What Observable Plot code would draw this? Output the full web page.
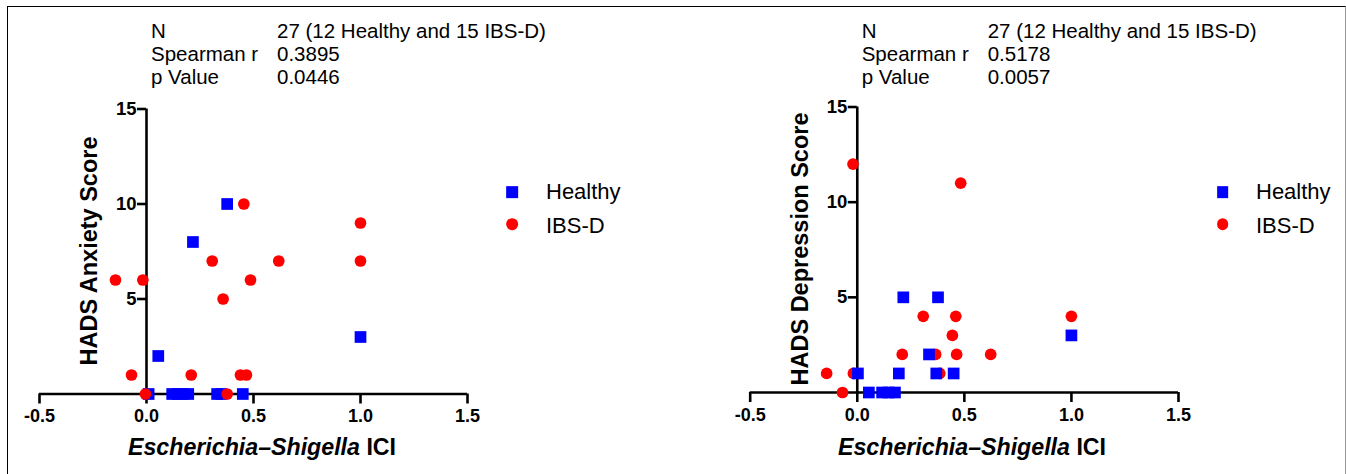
<!DOCTYPE html>
<html>
<head>
<meta charset="utf-8">
<script src="https://cdn.jsdelivr.net/npm/d3@7"></script>
<script src="https://cdn.jsdelivr.net/npm/@observablehq/plot@0.6"></script>
<style>
  html, body { margin: 0; padding: 0; background: #fff; }
  #wrap { position: relative; width: 1346px; height: 474px; overflow: hidden; font-family: "Liberation Sans", Arial, sans-serif; color: #000; }
  #frame { position: absolute; left: 7px; top: 6px; width: 1337px; height: 480px; border-top: 1.5px solid #000; border-left: 1.5px solid #000; border-right: 1px solid #999; }
  .panel { position: absolute; top: 0; }
  .t { position: absolute; white-space: nowrap; line-height: 1; }
  .stat { font-size: 20.5px; }
  .leg { font-size: 22px; }
  .ylab { font-weight: bold; transform: translate(-50%, -50%) rotate(-90deg); }
  .xlab { font-weight: bold; font-size: 23.2px; transform: translateX(-50%); }
  .sq { position: absolute; width: 11.7px; height: 11.7px; background: #0000ff; transform: translate(-50%, -50%); }
  .ci { position: absolute; width: 11.7px; height: 11.7px; border-radius: 50%; background: #ff0000; transform: translate(-50%, -50%); }
</style>
</head>
<body>
<div id="wrap">
  <div id="frame"></div>
</div>
<script>
// ---- data ----
const xTicks = [-0.5, 0, 0.5, 1.0, 1.5];
const yTicks = [5, 10, 15];
const seriesNames = ["Healthy", "IBS-D"];

// Left panel: HADS Anxiety
const anxHealthyX = [0.01, 0.055, 0.12, 0.145, 0.17, 0.195, 0.217, 0.33, 0.35, 0.377, 0.45, 1.0];
const anxHealthyY = [0, 2, 0, 0, 0, 0, 8, 0, 0, 10, 0, 3];
const anxIbsX = [-0.145, -0.07, -0.017, -0.005, 0.209, 0.307, 0.358, 0.377, 0.439, 0.455, 0.467, 0.486, 0.618, 1.0, 1.0];
const anxIbsY = [6, 1, 6, 0, 1, 7, 5, 0, 1, 10, 1, 6, 7, 9, 7];

// Right panel: HADS Depression
const depHealthyX = [0.003, 0.054, 0.116, 0.146, 0.176, 0.194, 0.215, 0.335, 0.369, 0.377, 0.45, 1.0];
const depHealthyY = [1, 0, 0, 0, 0, 1, 5, 2, 1, 5, 1, 3];
const depIbsX = [-0.143, -0.069, -0.018, -0.02, 0.21, 0.308, 0.366, 0.385, 0.444, 0.46, 0.464, 0.483, 0.623, 1.0];
const depIbsY = [1, 0, 1, 12, 2, 4, 2, 1, 3, 4, 2, 11, 2, 4];

const statLabels = ["N", "Spearman r", "p Value"];
const anxStats = ["27 (12 Healthy and 15 IBS-D)", "0.3895", "0.0446"];
const depStats = ["27 (12 Healthy and 15 IBS-D)", "0.5178", "0.0057"];

const anxLabel = "HADS Anxiety Score";
const depLabel = "HADS Depression Score";
const xGenus = "Escherichia\u2013Shigella";
const xSuffix = " ICI";

const BLUE = "#0000ff", RED = "#ff0000";

function panel(hX, hY, iX, iY, m, redOnTop) {
  const healthy = hX.map((x, i) => ({x, y: hY[i]}));
  const ibs = iX.map((x, i) => ({x, y: iY[i]}));
  const sq = Plot.dot(healthy, {x: "x", y: "y", symbol: "square", r: 6.6, fill: BLUE, stroke: "none"});
  const ci = Plot.dot(ibs, {x: "x", y: "y", symbol: "circle", r: 5.85, fill: RED, stroke: "none"});
  return Plot.plot({
    width: 673, height: 474,
    marginLeft: m.left, marginRight: m.right, marginTop: m.top, marginBottom: m.bottom,
    x: {domain: [-0.5, 1.5]},
    y: {domain: [0, 15], axis: null},
    style: {fontFamily: "Liberation Sans, Arial, sans-serif", fontSize: "18px", fontWeight: "bold", color: "#000", background: "transparent", overflow: "visible"},
    marks: [
      Plot.ruleY([0], {stroke: "#000", strokeWidth: 2.6}),
      Plot.axisX(xTicks, {tickSize: 10, tickPadding: 5.5, tickFormat: d => d.toFixed(1), strokeWidth: 2.6, label: null, fontSize: 18, fontWeight: "bold", fill: "#000"}),
      Plot.ruleX([0], {y1: 0, y2: 15, stroke: "#000", strokeWidth: 2.6}),
      Plot.ruleY(yTicks, {y: d => d, x1: 0, x2: 0, insetLeft: -9, stroke: "#000", strokeWidth: 2.6}),
      Plot.text(yTicks, {x: 0, y: d => d, text: d => String(d), dx: -10, textAnchor: "end", fontSize: 18.5, fontWeight: "bold", fill: "#000"}),
      ...(redOnTop ? [sq, ci] : [ci, sq])
    ]
  });
}

const wrap = document.getElementById("wrap");

const left = panel(anxHealthyX, anxHealthyY, anxIbsX, anxIbsY, {left: 39, right: 206, top: 108.5, bottom: 80.5}, true);
left.classList.add("panel"); left.style.left = "0px";
wrap.appendChild(left);

const right = panel(depHealthyX, depHealthyY, depIbsX, depIbsY, {left: 76.7, right: 168, top: 106.5, bottom: 82}, false);
right.classList.add("panel"); right.style.left = "673px";
wrap.appendChild(right);

function addText(cls, html, x, y, extra) {
  const d = document.createElement("div");
  d.className = "t " + cls;
  d.innerHTML = html;
  d.style.left = x + "px";
  d.style.top = y + "px";
  if (extra) Object.assign(d.style, extra);
  wrap.appendChild(d);
  return d;
}

function decorate(axisX0, stats, ylab, ylabX, ylabY, ylabSize, xlabX, legSqX, legTextX) {
  const baselines = [38, 61, 84];
  statLabels.forEach((s, i) => {
    addText("stat", s, axisX0 + 5, baselines[i] - 17.35);
    addText("stat", stats[i], axisX0 + 131, baselines[i] - 17.35);
  });
  addText("ylab", ylab, ylabX, ylabY, {fontSize: ylabSize + "px"});
  addText("xlab", "<i>" + xGenus + "</i>" + xSuffix, xlabX, 456 - 19.6);
  const s = document.createElement("div"); s.className = "sq"; s.style.left = legSqX + "px"; s.style.top = "192px"; wrap.appendChild(s);
  const c = document.createElement("div"); c.className = "ci"; c.style.left = legSqX + "px"; c.style.top = "224px"; wrap.appendChild(c);
  addText("leg", seriesNames[0], legTextX, 200 - 18.6);
  addText("leg", seriesNames[1], legTextX, 233.3 - 18.6);
}

decorate(146, anxStats, anxLabel, 90, 251, 23.5, 262, 512, 546);
decorate(856.7, depStats, depLabel, 801, 249, 23.5, 972, 1222.5, 1256);
</script>
</body>
</html>
